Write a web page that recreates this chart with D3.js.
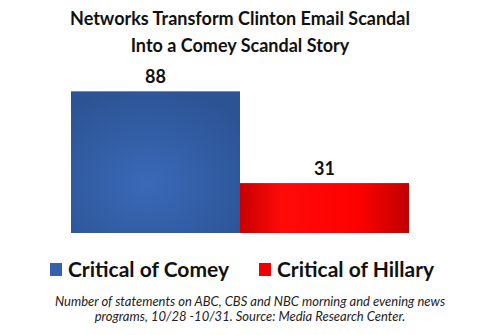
<!DOCTYPE html>
<html>
<head>
<meta charset="utf-8">
<script src="https://cdn.jsdelivr.net/npm/d3@7"></script>
<style>
  body { margin: 0; background: #fff; }
  text { font-family: Lato, "Open Sans", sans-serif; fill: #111; }
</style>
</head>
<body>
<div id="grafico"></div>
<script>
// Datos
const categories = ["Critical of Comey", "Critical of Hillary"];
const values = [88, 31];
const colors = ["#3461ab", "#f00000"];
const titleLines = ["Networks Transform Clinton Email Scandal", "Into a Comey Scandal Story"];
const noteLines = ["Number of statements on ABC, CBS and NBC morning and evening news",
                   "programs, 10/28 -10/31. Source: Media Research Center."];

const W = 500, H = 335;
const margin = { top: 72, right: 91, bottom: 102, left: 71 };
const width = W - margin.left - margin.right;
const height = H - margin.top - margin.bottom;

const root = d3.select("#grafico").append("svg")
    .attr("width", W)
    .attr("height", H);

// Gradientes
const defs = root.append("defs");
const gBlue = defs.append("radialGradient").attr("id", "gBlue")
    .attr("cx", "45%").attr("cy", "65%").attr("r", "70%");
gBlue.append("stop").attr("offset", "0%").attr("stop-color", "#3a69b8");
gBlue.append("stop").attr("offset", "100%").attr("stop-color", "#2c5494");

const gRed = defs.append("linearGradient").attr("id", "gRed")
    .attr("x1", "0%").attr("x2", "100%");
gRed.append("stop").attr("offset", "0%").attr("stop-color", "#c80000");
gRed.append("stop").attr("offset", "25%").attr("stop-color", "#ff0a0a");
gRed.append("stop").attr("offset", "70%").attr("stop-color", "#ff0000");
gRed.append("stop").attr("offset", "100%").attr("stop-color", "#c00000");
const fills = ["url(#gBlue)", "url(#gRed)"];

// Titulo
root.append("g").selectAll("text")
    .data(titleLines)
    .enter().append("text")
    .attr("x", 240)
    .attr("y", (d, i) => 25 + i * 27)
    .attr("text-anchor", "middle")
    .style("font-size", "18px")
    .style("font-weight", "bold")
    .text(d => d);

const svg = root.append("g")
    .attr("transform", `translate(${margin.left},${margin.top})`);

const x = d3.scaleBand()
    .domain(categories)
    .range([0, width])
    .padding(0);

const y = d3.scaleLinear()
    .domain([0, 100])
    .range([height, 0]);

svg.selectAll(".bar")
    .data(values)
    .enter()
    .append("rect")
    .attr("class", "bar")
    .attr("x", (d, i) => x(categories[i]))
    .attr("y", d => y(d))
    .attr("width", x.bandwidth())
    .attr("height", d => height - y(d))
    .attr("fill", (d, i) => fills[i]);

svg.selectAll(".label")
    .data(values)
    .enter()
    .append("text")
    .attr("class", "label")
    .attr("x", (d, i) => x(categories[i]) + x.bandwidth() / 2)
    .attr("y", d => y(d) - 8)
    .attr("text-anchor", "middle")
    .style("font-size", "18px")
    .style("font-weight", "bold")
    .text(d => d);

// Leyenda
const legendX = [50, 259];
const legend = root.append("g").selectAll("g")
    .data(categories)
    .enter().append("g")
    .attr("transform", (d, i) => `translate(${legendX[i]},263)`);

legend.append("rect")
    .attr("width", 12)
    .attr("height", 13)
    .attr("fill", (d, i) => colors[i]);

legend.append("text")
    .attr("x", 18)
    .attr("y", 14)
    .style("font-size", "21px")
    .style("font-weight", "bold")
    .text(d => d);

// Nota
root.append("g").selectAll("text")
    .data(noteLines)
    .enter().append("text")
    .attr("x", 250)
    .attr("y", (d, i) => 306 + i * 15)
    .attr("text-anchor", "middle")
    .style("font-size", "13px")
    .style("font-style", "italic")
    .style("fill", "#222")
    .text(d => d);
</script>
</body>
</html>
